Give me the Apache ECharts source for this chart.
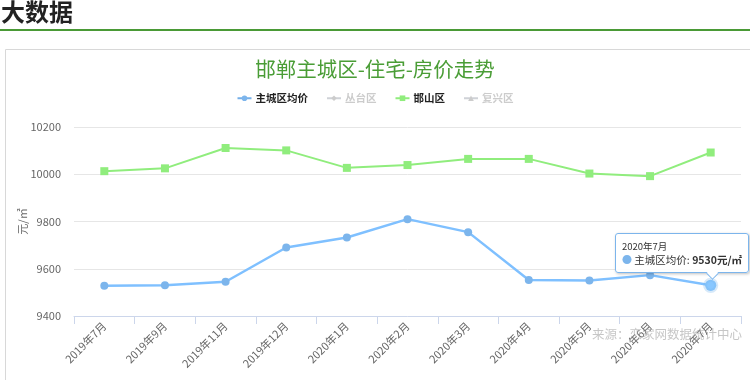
<!DOCTYPE html>
<html>
<head>
<meta charset="utf-8">
<script src="https://cdn.jsdelivr.net/npm/echarts@6/dist/echarts.min.js"></script>
<style>
html,body{margin:0;padding:0;background:#fff;overflow:hidden;}
#c{width:750px;height:380px;position:absolute;left:0;top:0;}
</style>
</head>
<body>
<div id="c"></div>
<script>
var categories = ['2019年7月','2019年9月','2019年11月','2019年12月','2020年1月','2020年2月','2020年3月','2020年4月','2020年5月','2020年6月','2020年7月'];
var mainCity = [9528,9530,9545,9690,9732,9810,9755,9552,9550,9573,9530];
var congtai = [];
var hanshan = [10013,10025,10111,10101,10027,10039,10065,10065,10003,9992,10092];
var fuxing = [];
var yTicks = {min:9400, max:10200, interval:200};

var FONT = '"Noto Sans CJK SC", "Noto Sans", sans-serif';
var chart = echarts.init(document.getElementById('c'), null, {renderer:'canvas'});
var option = {
  animation:false,
  textStyle:{fontFamily:FONT},
  title:{
    text:'邯郸主城区-住宅-房价走势',
    left:'center', top:54,
    textStyle:{color:'#4a9d36', fontSize:20.5, fontWeight:'normal', fontFamily:FONT}
  },
  graphic:[
    {type:'text', left:1, top:0, style:{text:'大数据', font:'bold 24px "Noto Sans CJK SC"', fill:'#222'}},
    {type:'rect', left:0, top:29, shape:{width:750, height:2}, style:{fill:'#4a9a36'}},
    {type:'rect', left:3, top:47, shape:{width:745, height:340}, style:{fill:'none', stroke:'#d8d8d8', lineWidth:1}},
    {type:'text', right:8, top:328, z:100, style:{text:'来源：恋家网数据统计中心', font:'12.5px "Noto Sans CJK SC"', fill:'rgba(160,160,160,0.6)'}}
  ],
  legend:{
    top:88, left:'center', itemWidth:14, itemHeight:7, itemGap:18,
    inactiveColor:'#cccccc',
    textStyle:{color:'#222', fontSize:10.5, fontWeight:'bold', fontFamily:FONT, padding:[0,0,0,-1]},
    selected:{'丛台区':false,'复兴区':false},
    data:['主城区均价','丛台区','邯山区','复兴区']
  },
  grid:{left:74, right:9, top:127, bottom:64},
  tooltip:{
    trigger:'item', triggerOn:'none', alwaysShowContent:true, confine:false,
    backgroundColor:'rgba(255,255,255,0.92)', borderColor:'#7cb5ec', borderWidth:1, padding:[5,6],
    extraCssText:'border-radius:3px;box-shadow:1px 1px 3px rgba(0,0,0,0.25);overflow:visible;',
    textStyle:{fontFamily:FONT},
    position:function(point, params, dom, rect, size){
      return [point[0]-96, point[1]-52];
    },
    formatter:function(p){
      return '<div style="position:relative;font-family:'+"'Noto Sans CJK SC'"+';line-height:14px;white-space:nowrap;">'+
        '<div style="font-size:9.5px;color:#333;">'+p.name+'</div>'+
        '<div style="font-size:10.5px;color:#333;"><span style="color:'+p.color+';font-size:10px;">●</span> '+p.seriesName+': <b>'+p.value+'元/㎡</b></div>'+
        '<div style="position:absolute;left:86px;bottom:-11px;width:8px;height:8px;background:#fff;border-right:1px solid #7cb5ec;border-bottom:1px solid #7cb5ec;transform:rotate(45deg);"></div>'+
        '</div>';
    }
  },
  xAxis:{
    type:'category', data:categories, boundaryGap:true,
    axisLine:{lineStyle:{color:'#ccd6eb'}},
    axisTick:{show:true, length:8, lineStyle:{color:'#ccd6eb'}},
    axisLabel:{rotate:45, color:'#666', fontSize:11, margin:8, fontFamily:FONT, interval:0}
  },
  yAxis:{
    type:'value', min:yTicks.min, max:yTicks.max, interval:yTicks.interval,
    name:'元/㎡', nameLocation:'middle', nameGap:46, nameRotate:90, nameMoveOverlap:false,
    nameTextStyle:{color:'#666', fontSize:11, fontFamily:FONT},
    axisLine:{show:false}, axisTick:{show:false},
    axisLabel:{color:'#666', fontSize:11, margin:13, fontFamily:FONT, formatter:function(v){return String(v);}},
    splitLine:{lineStyle:{color:'#e6e6e6'}}
  },
  series:[
    {name:'主城区均价', type:'line', data:mainCity, symbol:'circle', symbolSize:8,
     color:'#7cb5ec', lineStyle:{width:2.5, color:'#74afe8'},
     emphasis:{focus:'none', scale:1.4, lineStyle:{width:2.5}, itemStyle:{borderColor:'rgba(124,181,236,0.3)', borderWidth:4}}},
    {name:'丛台区', type:'line', data:congtai, symbol:'diamond', symbolSize:9, color:'#434348'},
    {name:'邯山区', type:'line', data:hanshan, symbol:'rect', symbolSize:8,
     color:'#90ed7d', lineStyle:{width:2}, emphasis:{disabled:true}},
    {name:'复兴区', type:'line', data:fuxing, symbol:'triangle', symbolSize:9, color:'#f7a35c'}
  ]
};
chart.setOption(option);
chart.dispatchAction({type:'highlight', seriesIndex:0, dataIndex:10});
chart.dispatchAction({type:'showTip', seriesIndex:0, dataIndex:10});
</script>
</body>
</html>
